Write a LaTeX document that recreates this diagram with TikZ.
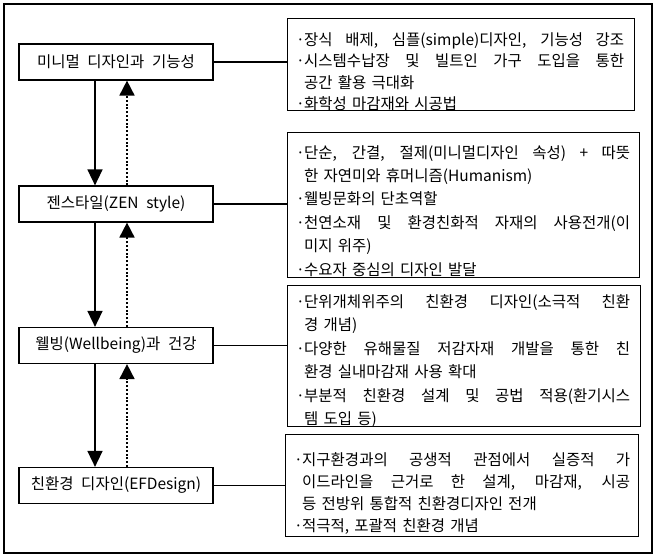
\documentclass[tikz,border=0pt]{standalone}
\usepackage{fontspec}
\setmainfont{Noto Sans CJK KR}[WordSpace=2.2]
\usetikzlibrary{arrows.meta}
\newlength{\jw}\setlength{\jw}{326pt}
\newcommand{\bu}{\makebox[8pt][l]{·}}
\newcommand{\ind}{\hspace*{8pt}}
\newcommand{\J}[1]{{\spaceskip=0.5em plus 1fil\relax\makebox[\jw][s]{#1}}}
\begin{document}
\begin{tikzpicture}[x=1pt,y=-1pt,
  lbox/.style={draw,line width=1.2pt,minimum width=194pt,minimum height=36pt,inner sep=0pt,font=\fontsize{15.5}{17}\selectfont},
  rbox/.style={draw,line width=1.2pt,anchor=north west,inner sep=0pt},
  rtext/.style={anchor=north west,inner sep=0pt,text width=345pt,align=left},
  link/.style={line width=1.6pt},
  downarr/.style={line width=1.6pt,-{Triangle[width=15pt,length=16pt]}},
  uparr/.style={line width=1.8pt,dash pattern=on 2pt off 1.8pt,-{Triangle[width=15pt,length=15pt]}}]
\useasboundingbox (0,0) rectangle (654,556);
\node[draw,line width=2pt,minimum width=648pt,minimum height=549pt,inner sep=0pt,anchor=north west] (frame) at (3,3) {};
% left boxes
\node[lbox] (L1) at (116,62) {미니멀 디자인과 기능성};
\node[lbox] (L2) at (116,204) {젠스타일(ZEN style)};
\node[lbox] (L3) at (116,345.5) {웰빙(Wellbeing)과 건강};
\node[lbox] (L4) at (116,485.5) {친환경 디자인(EFDesign)};
% right boxes
\node[rbox,minimum width=347pt,minimum height=92pt] (A) at (287,18) {};
\node[rbox,minimum width=352pt,minimum height=145pt] (B) at (287,132) {};
\node[rbox,minimum width=353pt,minimum height=141pt] (C) at (287,285) {};
\node[rbox,minimum width=353pt,minimum height=102pt] (D) at (285,434) {};
% texts
\node[rtext,font=\fontsize{15.5}{21.5}\selectfont] (tA) at ([xshift=9pt,yshift=-14pt]A.north west) {%
\setlength{\jw}{320pt}%
\bu\J{장식 배제, 심플(simple)디자인, 기능성 강조}\\
\bu\J{시스템수납장 및 빌트인 가구 도입을 통한}\\
\ind 공간 활용 극대화\\
\bu 화학성 마감재와 시공법};
\node[rtext,font=\fontsize{15.5}{23.4}\selectfont] (tB) at ([xshift=9pt,yshift=-13pt]B.north west) {%
\bu\J{단순, 간결, 절제(미니멀디자인 속성) + 따뜻}\\
\ind 한 자연미와 휴머니즘(Humanism)\\
\bu 웰빙문화의 단초역할\\
\bu\J{천연소재 및 환경친화적 자재의 사용전개(이}\\
\ind 미지 위주)\\
\bu 수요자 중심의 디자인 발달};
\node[rtext,font=\fontsize{15.5}{23.5}\selectfont] (tC) at ([xshift=9pt,yshift=-9pt]C.north west) {%
\bu\J{단위개체위주의 친환경 디자인(소극적 친환}\\
\ind 경 개념)\\
\bu\J{다양한 유해물질 저감자재 개발을 통한 친}\\
\ind 환경 실내마감재 사용 확대\\
\bu\J{부분적 친환경 설계 및 공법 적용(환기시스}\\
\ind 템 도입 등)};
\node[rtext,font=\fontsize{15.5}{22}\selectfont] (tD) at ([xshift=9pt,yshift=-18pt]D.north west) {%
\setlength{\jw}{328pt}%
\bu\J{지구환경과의 공생적 관점에서 실증적 가}\\
\ind\J{이드라인을 근거로 한 설계, 마감재, 시공}\\
\ind 등 전방위 통합적 친환경디자인 전개\\
\bu 적극적, 포괄적 친환경 개념};
% connectors
\draw[link] (L1.east) -- (L1.east -| A.west);
\draw[link] (L2.east) -- (L2.east -| B.west);
\draw[link] (L3.east) -- (L3.east -| C.west);
\draw[link] (L4.east) -- (L4.east -| D.west);
% arrows
\draw[downarr] ([xshift=-21pt]L1.south) -- ([xshift=-21pt]L2.north);
\draw[downarr] ([xshift=-21pt]L2.south) -- ([xshift=-21pt]L3.north);
\draw[downarr] ([xshift=-21pt]L3.south) -- ([xshift=-21pt]L4.north);
\draw[uparr] ([xshift=11pt]L2.north) -- ([xshift=11pt]L1.south);
\draw[uparr] ([xshift=11pt]L3.north) -- ([xshift=11pt]L2.south);
\draw[uparr] ([xshift=11pt]L4.north) -- ([xshift=11pt]L3.south);
\end{tikzpicture}
\end{document}
